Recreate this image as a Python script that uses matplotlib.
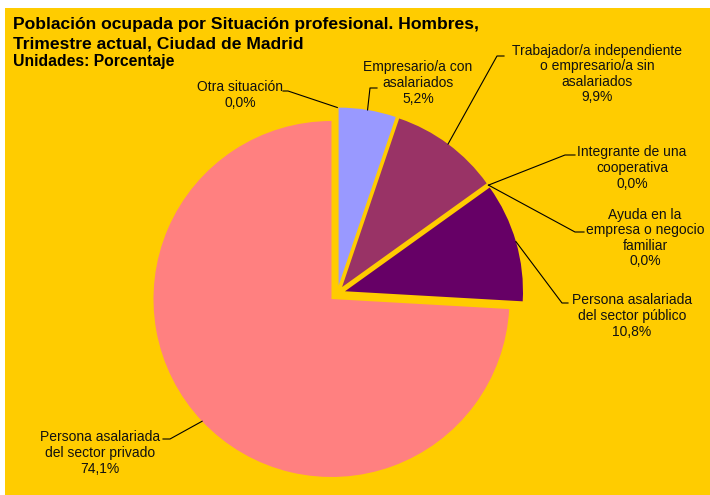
import matplotlib
matplotlib.use("Agg")
import matplotlib.pyplot as plt
from matplotlib.patches import Rectangle
import numpy as np

plt.rcParams['font.family'] = ['Liberation Sans', 'DejaVu Sans']

W, H = 710, 495

# Data (clockwise from 12 o'clock)
categories = [
    "Empresario/a con\nasalariados",
    "Trabajador/a independiente\no empresario/a sin\nasalariados",
    "Integrante de una\ncooperativa",
    "Ayuda en la\nempresa o negocio\nfamiliar",
    "Persona asalariada\ndel sector público",
    "Persona asalariada\ndel sector privado",
    "Otra situación",
]
values = [5.2, 9.9, 0.0, 0.0, 10.8, 74.1, 0.0]
colors = ["#9999FF", "#993366", "#FFFFCC", "#CCFFFF", "#660066", "#FF8080", "#0066CC"]

title_lines = [
    "Población ocupada por Situación profesional. Hombres,",
    "Trimestre actual, Ciudad de Madrid",
]
subtitle = "Unidades: Porcentaje"

# label layout in screen pixels: text centre, elbow start, elbow end
label_pos = [
    ((418, 83), (370, 88), (377, 88)),
    ((597, 74), (497, 56), (504, 56)),
    ((632, 168), (565, 155), (575, 155)),
    ((645, 238), (575, 232), (584, 232)),
    ((632, 316), (562, 303), (568, 303)),
    ((100, 453), (170, 439), (163, 439)),
    ((240, 95), (288, 91), (283, 91)),
]

BG = "#FFCC00"


def sy(y):
    # screen y (top-down) to axes y (bottom-up)
    return H - y


fig = plt.figure(figsize=(W / 100, H / 100), dpi=100, facecolor="white")
ax = fig.add_axes([0, 0, 1, 1])

ax.add_patch(Rectangle((5, 0), W - 5, H - 8, facecolor=BG, edgecolor="none", zorder=0))

radius = 178
# explode is in data units (pixels here)
wedges, _ = ax.pie(values, colors=colors, startangle=90, counterclock=False,
                   radius=radius, center=(337.3, sy(293.5)),
                   explode=[8] * len(values), frame=True,
                   wedgeprops=dict(linewidth=0))
ax.set_xlim(0, W)
ax.set_ylim(0, H)
ax.set_aspect("auto")
ax.axis("off")

for w, cat, v, (tpos, e1, e2) in zip(wedges, categories, values, label_pos):
    mid = np.deg2rad((w.theta1 + w.theta2) / 2)
    cx, cy = w.center
    ax0 = cx + w.r * np.cos(mid)
    ay0 = cy + w.r * np.sin(mid)
    ax.plot([ax0, e1[0], e2[0]], [ay0, sy(e1[1]), sy(e2[1])],
            color="black", lw=0.8, zorder=3)
    txt = cat + "\n" + f"{v:.1f}".replace(".", ",") + "%"
    ax.text(tpos[0], sy(tpos[1]), txt, ha="center", va="center",
            fontsize=10, color="#111111", linespacing=1.15, zorder=4)

ax.text(13, sy(29), title_lines[0], fontsize=12.6, fontweight="bold", va="baseline")
ax.text(13, sy(48.5), title_lines[1], fontsize=12.6, fontweight="bold", va="baseline")
ax.text(13, sy(66), subtitle, fontsize=11.3, fontweight="bold", va="baseline")

fig.savefig("out.png", dpi=100, facecolor="white")
